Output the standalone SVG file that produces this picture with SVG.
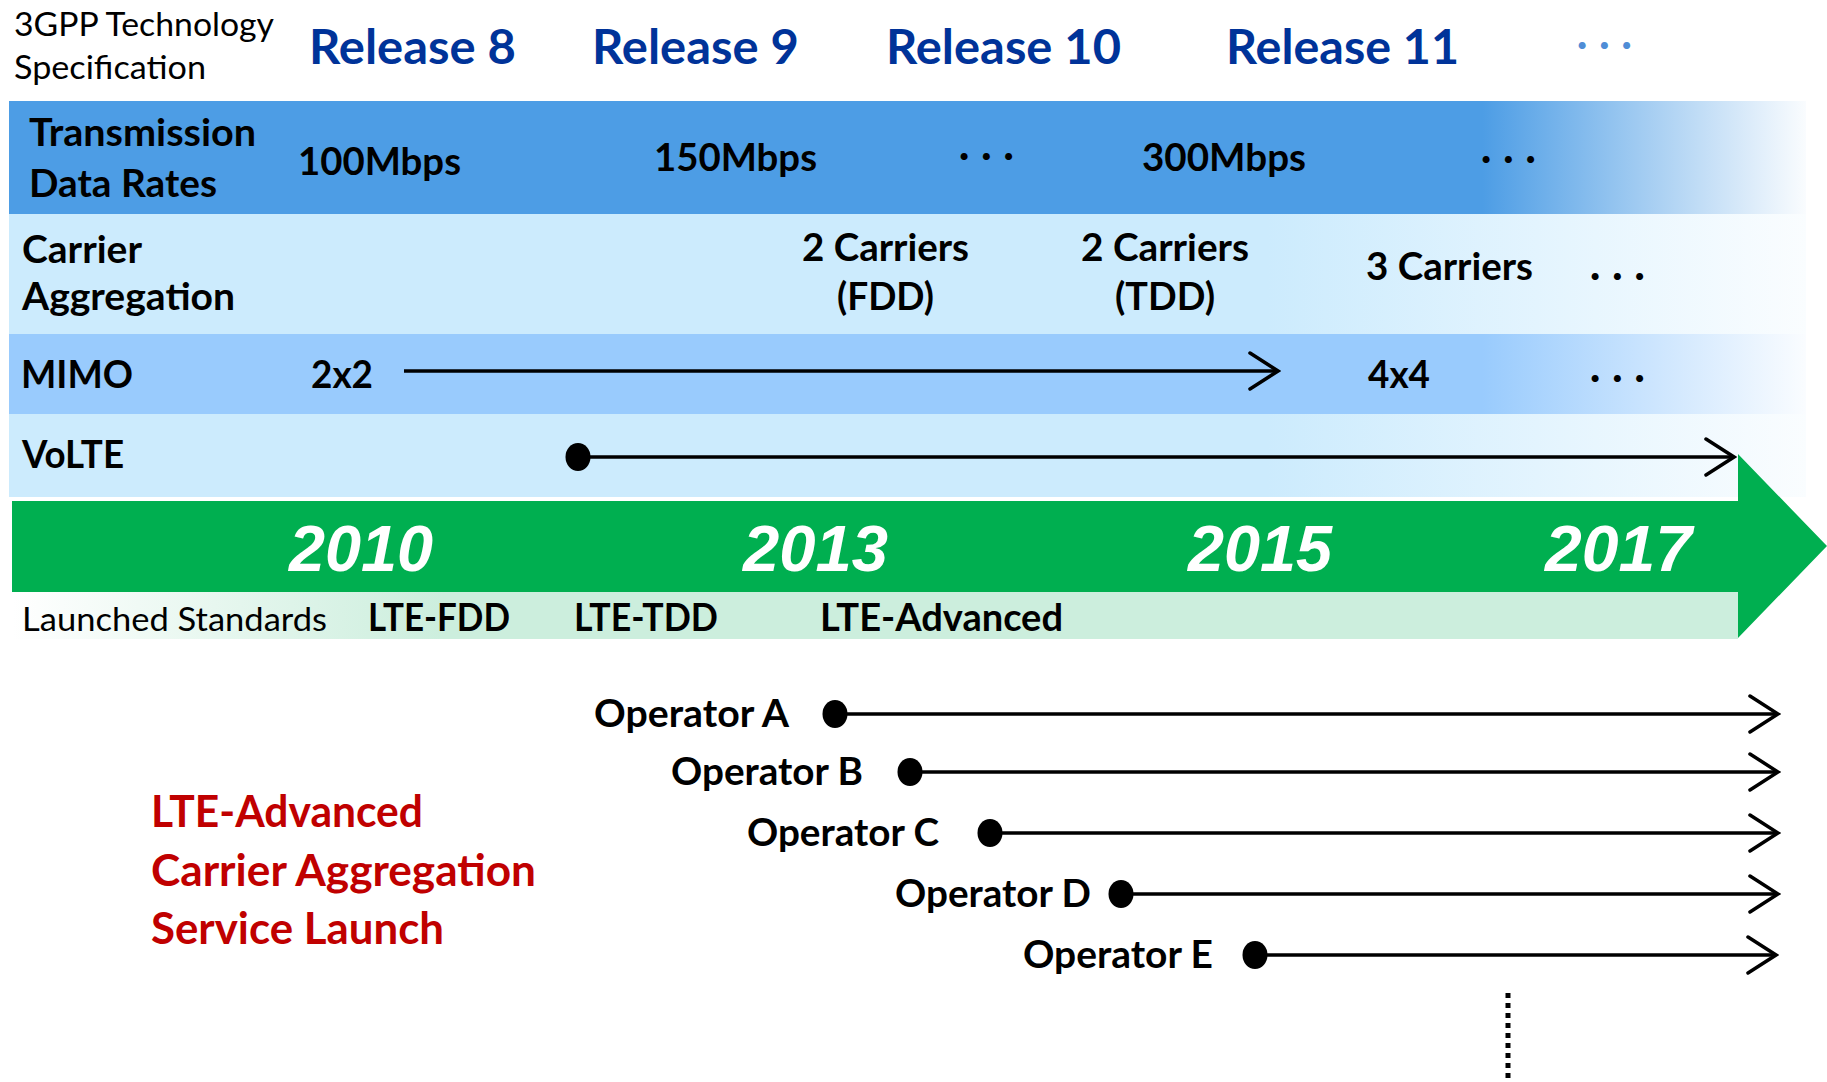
<svg xmlns="http://www.w3.org/2000/svg" width="1827" height="1082" viewBox="0 0 1827 1082">
<style>
.f{font-family:Lato,"Open Sans","Liberation Sans",sans-serif}
.b{font-family:Lato,"Open Sans","Liberation Sans",sans-serif;font-weight:700;fill:#000}
.rel{font-family:Lato,"Open Sans","Liberation Sans",sans-serif;font-weight:700;fill:#003399;font-size:47px}
.lbl{font-size:38px}
.yr{font-family:"Liberation Sans",Arial,sans-serif;font-weight:700;font-style:italic;fill:#fff;font-size:64px}
.red{font-family:Lato,"Open Sans","Liberation Sans",sans-serif;font-weight:700;fill:#C00000;font-size:43px}
.conn{stroke:#000;stroke-width:3.5;fill:none}
.dots{font-family:Lato,"Open Sans","Liberation Sans",sans-serif;font-weight:900;font-size:43px;letter-spacing:12px}
</style>
<defs>
<linearGradient id="g1" gradientUnits="userSpaceOnUse" x1="9" y1="0" x2="1806" y2="0">
<stop offset="0" stop-color="#4D9DE5"/><stop offset="0.82" stop-color="#4D9DE5"/><stop offset="1" stop-color="#4D9DE5" stop-opacity="0.03"/>
</linearGradient>
<linearGradient id="g2" gradientUnits="userSpaceOnUse" x1="9" y1="0" x2="1806" y2="0">
<stop offset="0" stop-color="#CCEBFD"/><stop offset="0.7" stop-color="#CCEBFD"/><stop offset="1" stop-color="#CCEBFD" stop-opacity="0.1"/>
</linearGradient>
<linearGradient id="g3" gradientUnits="userSpaceOnUse" x1="9" y1="0" x2="1806" y2="0">
<stop offset="0" stop-color="#99CBFD"/><stop offset="0.82" stop-color="#99CBFD"/><stop offset="1" stop-color="#99CBFD" stop-opacity="0.05"/>
</linearGradient>
<linearGradient id="g5" gradientUnits="userSpaceOnUse" x1="12" y1="0" x2="1738" y2="0">
<stop offset="0" stop-color="#CCEEDD" stop-opacity="0"/><stop offset="0.25" stop-color="#CCEEDD"/><stop offset="1" stop-color="#CCEEDD"/>
</linearGradient>
<marker id="chev" markerUnits="userSpaceOnUse" viewBox="0 0 34 42" markerWidth="34" markerHeight="42" refX="31" refY="21" orient="auto">
<path d="M3,3 L31,21 L3,39" fill="none" stroke="#000" stroke-width="3.5" stroke-linecap="round" stroke-linejoin="miter"/>
</marker>
</defs>
<rect width="1827" height="1082" fill="#fff"/>

<g id="header">
<text class="f" font-size="33" fill="#000" x="14" y="36" textLength="260" lengthAdjust="spacingAndGlyphs">3GPP Technology</text>
<text class="f" font-size="33" fill="#000" x="14" y="79" textLength="192" lengthAdjust="spacingAndGlyphs">Specification</text>
<text class="rel" x="309" y="64" textLength="207" lengthAdjust="spacingAndGlyphs">Release 8</text>
<text class="rel" x="592" y="64" textLength="207" lengthAdjust="spacingAndGlyphs">Release 9</text>
<text class="rel" x="886" y="64" textLength="235" lengthAdjust="spacingAndGlyphs">Release 10</text>
<text class="rel" x="1226" y="64" textLength="233" lengthAdjust="spacingAndGlyphs">Release 11</text>
<text class="dots" x="1577" y="49" fill="#4F8DD6">...</text>
</g>

<g id="row-data-rates">
<rect x="9" y="101" width="1797" height="113" fill="url(#g1)"/>
<text class="b lbl" x="29" y="146" textLength="227" lengthAdjust="spacingAndGlyphs">Transmission</text>
<text class="b lbl" x="29" y="197" textLength="188" lengthAdjust="spacingAndGlyphs">Data Rates</text>
<text class="b lbl" x="298" y="175" textLength="163" lengthAdjust="spacingAndGlyphs">100Mbps</text>
<text class="b lbl" x="654" y="171" textLength="163" lengthAdjust="spacingAndGlyphs">150Mbps</text>
<text class="dots" x="959" y="160">...</text>
<text class="b lbl" x="1142" y="171" textLength="164" lengthAdjust="spacingAndGlyphs">300Mbps</text>
<text class="dots" x="1481" y="163">...</text>
</g>

<g id="row-carrier-aggregation">
<rect x="9" y="214" width="1797" height="120" fill="url(#g2)"/>
<text class="b lbl" x="22" y="263" textLength="120" lengthAdjust="spacingAndGlyphs">Carrier</text>
<text class="b lbl" x="22" y="310" textLength="213" lengthAdjust="spacingAndGlyphs">Aggregation</text>
<text class="b lbl" x="802" y="261" textLength="167" lengthAdjust="spacingAndGlyphs">2 Carriers</text>
<text class="b lbl" x="837" y="310" textLength="97" lengthAdjust="spacingAndGlyphs">(FDD)</text>
<text class="b lbl" x="1081" y="261" textLength="168" lengthAdjust="spacingAndGlyphs">2 Carriers</text>
<text class="b lbl" x="1115" y="310" textLength="100" lengthAdjust="spacingAndGlyphs">(TDD)</text>
<text class="b lbl" x="1366" y="280" textLength="167" lengthAdjust="spacingAndGlyphs">3 Carriers</text>
<text class="dots" x="1590" y="280">...</text>
</g>

<g id="row-mimo">
<rect x="9" y="334" width="1797" height="80" fill="url(#g3)"/>
<text class="b lbl" x="21" y="388" textLength="112" lengthAdjust="spacingAndGlyphs">MIMO</text>
<text class="b lbl" x="311" y="388" textLength="62" lengthAdjust="spacingAndGlyphs">2x2</text>
<text class="b lbl" x="1368" y="388" textLength="62" lengthAdjust="spacingAndGlyphs">4x4</text>
<text class="dots" x="1590" y="382">...</text>
</g>

<g id="row-volte">
<rect x="9" y="414" width="1797" height="83" fill="url(#g2)"/>
<text class="b lbl" x="22" y="468" textLength="102" lengthAdjust="spacingAndGlyphs">VoLTE</text>
</g>

<g id="timeline">
<rect x="12" y="592" width="1726" height="47" fill="url(#g5)"/>
<path d="M12,501 H1738 V454 L1827,546 L1738,638 V592 H12 Z" fill="#00AF50"/>
<text class="yr" x="289" y="571" textLength="144" lengthAdjust="spacingAndGlyphs">2010</text>
<text class="yr" x="743" y="571" textLength="145" lengthAdjust="spacingAndGlyphs">2013</text>
<text class="yr" x="1188" y="571" textLength="144" lengthAdjust="spacingAndGlyphs">2015</text>
<text class="yr" x="1545" y="571" textLength="147" lengthAdjust="spacingAndGlyphs">2017</text>
</g>

<g id="launched-standards">
<text class="f" font-size="33" fill="#000" x="22" y="631" textLength="305" lengthAdjust="spacingAndGlyphs">Launched Standards</text>
<text class="b lbl" x="368" y="631" textLength="142" lengthAdjust="spacingAndGlyphs">LTE-FDD</text>
<text class="b lbl" x="574" y="631" textLength="144" lengthAdjust="spacingAndGlyphs">LTE-TDD</text>
<text class="b lbl" x="820" y="631" textLength="243" lengthAdjust="spacingAndGlyphs">LTE-Advanced</text>
</g>

<g id="service-launch">
<text class="red" x="151" y="827" textLength="272" lengthAdjust="spacingAndGlyphs">LTE-Advanced</text>
<text class="red" x="151" y="886" textLength="385" lengthAdjust="spacingAndGlyphs">Carrier Aggregation</text>
<text class="red" x="151" y="944" textLength="293" lengthAdjust="spacingAndGlyphs">Service Launch</text>
</g>

<g id="operator-a"><text class="b lbl" x="594" y="727" textLength="195" lengthAdjust="spacingAndGlyphs">Operator A</text><ellipse cx="835" cy="714" rx="12.5" ry="14"/></g>
<g id="operator-b"><text class="b lbl" x="671" y="785" textLength="192" lengthAdjust="spacingAndGlyphs">Operator B</text><ellipse cx="910" cy="772" rx="12.5" ry="14"/></g>
<g id="operator-c"><text class="b lbl" x="747" y="846" textLength="192" lengthAdjust="spacingAndGlyphs">Operator C</text><ellipse cx="990" cy="833" rx="12.5" ry="14"/></g>
<g id="operator-d"><text class="b lbl" x="895" y="907" textLength="196" lengthAdjust="spacingAndGlyphs">Operator D</text><ellipse cx="1121" cy="894" rx="12.5" ry="14"/></g>
<g id="operator-e"><text class="b lbl" x="1023" y="968" textLength="190" lengthAdjust="spacingAndGlyphs">Operator E</text><ellipse cx="1255" cy="955" rx="12.5" ry="14"/></g>

<g id="connectors">
<line class="conn" x1="404" y1="371" x2="1278" y2="371" marker-end="url(#chev)"/>
<ellipse cx="578" cy="457" rx="12.5" ry="14"/>
<line class="conn" x1="578" y1="457" x2="1734" y2="457" marker-end="url(#chev)"/>
<line class="conn" x1="835" y1="714" x2="1778" y2="714" marker-end="url(#chev)"/>
<line class="conn" x1="910" y1="772" x2="1778" y2="772" marker-end="url(#chev)"/>
<line class="conn" x1="990" y1="833" x2="1778" y2="833" marker-end="url(#chev)"/>
<line class="conn" x1="1121" y1="894" x2="1778" y2="894" marker-end="url(#chev)"/>
<line class="conn" x1="1255" y1="955" x2="1776" y2="955" marker-end="url(#chev)"/>
<line x1="1508" y1="993" x2="1508" y2="1082" stroke="#000" stroke-width="5" stroke-dasharray="5 5"/>
</g>
</svg>
